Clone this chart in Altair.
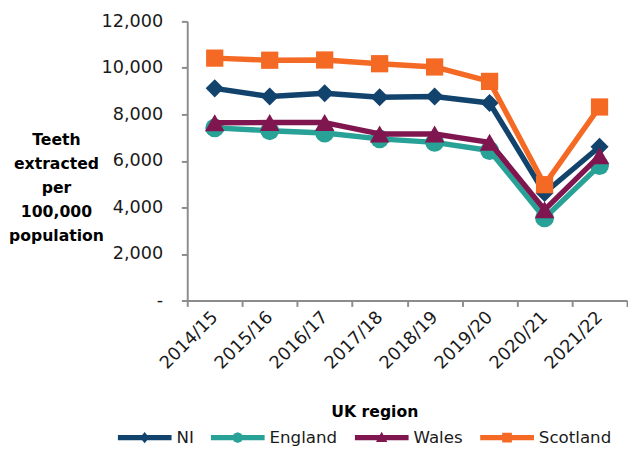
import altair as alt
import pandas as pd

years = ["2014/15", "2015/16", "2016/17", "2017/18", "2018/19", "2019/20", "2020/21", "2021/22"]
regions = ["NI", "England", "Wales", "Scotland"]
ni = [9120, 8770, 8910, 8740, 8770, 8490, 4620, 6610]
england = [7420, 7300, 7200, 6950, 6800, 6450, 3550, 5800]
wales = [7640, 7650, 7650, 7160, 7160, 6800, 3900, 6220]
scotland = [10420, 10330, 10340, 10180, 10040, 9420, 4980, 8320]
colors = ["#12436D", "#28A197", "#801650", "#F46A25"]
marker_shapes = ["diamond", "circle", "triangle-up", "square"]
marker_sizes = [340, 370, 400, 310]

series = {"NI": ni, "England": england, "Wales": wales, "Scotland": scotland}
rows = []
for r in regions:
    for y, v in zip(years, series[r]):
        rows.append({"Year": y, "Region": r, "Value": v})
df = pd.DataFrame(rows)

FONT = "DejaVu Sans"

# legend symbols: thick line with the series marker in the middle (no arcs)
line_path = "M-1,-0.1 L1,-0.1 L1,0.1 L-1,0.1 Z"
legend_paths = [
    line_path + " M0,-0.21 L0.17,0 L0,0.21 L-0.17,0 Z",
    line_path + " M0,-0.2 L0.141,-0.141 L0.2,0 L0.141,0.141 L0,0.2 L-0.141,0.141 L-0.2,0 L-0.141,-0.141 Z",
    line_path + " M0,-0.22 L0.21,0.16 L-0.21,0.16 Z",
    line_path + " M-0.18,-0.18 L0.18,-0.18 L0.18,0.18 L-0.18,0.18 Z",
]

x_enc = alt.X(
    "Year:N",
    sort=years,
    scale=alt.Scale(paddingInner=0, paddingOuter=0),
    axis=alt.Axis(
        title="UK region",
        titleFont=FONT, titleFontSize=16, titleFontWeight="bold", titleColor="#000000",
        titleX=191, titleY=113, titleBaseline="middle", titleAlign="center",
        labelAngle=315, labelAlign="right", labelBaseline="middle",
        labelFont=FONT, labelFontSize=18, labelColor="#1a1a1a", labelPadding=8,
        tickBand="extent", tickSize=6, tickColor="#8c8c8c", tickWidth=2,
        domainColor="#8c8c8c", domainWidth=2,
    ),
)
y_enc = alt.Y(
    "Value:Q",
    scale=alt.Scale(domain=[0, 12000], nice=False),
    axis=alt.Axis(
        title=["Teeth", "extracted", "per", "100,000", "population"],
        titleAngle=0, titleAlign="center", titleBaseline="middle",
        titleX=-134, titleY=121, titleLineHeight=24.5,
        titleFont=FONT, titleFontSize=16, titleFontWeight="bold", titleColor="#000000",
        values=[0, 2000, 4000, 6000, 8000, 10000, 12000],
        labelExpr="datum.value == 0 ? '-\u00a0\u00a0\u00a0' : format(datum.value, ',')",
        labelFont=FONT, labelFontSize=18, labelColor="#1a1a1a", labelPadding=19,
        tickSize=6, tickColor="#8c8c8c", tickWidth=2,
        domainColor="#8c8c8c", domainWidth=2, grid=False,
    ),
)

layers = []
for r, c, s, sz in zip(regions, colors, marker_shapes, marker_sizes):
    base = alt.Chart().transform_filter(alt.datum.Region == r)
    layers.append(
        base.mark_line(strokeWidth=5.5, strokeJoin="round", strokeCap="round", color=c)
        .encode(x=x_enc, y=y_enc)
    )
    layers.append(
        base.mark_point(filled=True, shape=s, size=sz, color=c, opacity=1, strokeWidth=0)
        .encode(x=x_enc, y=y_enc)
    )

leg = alt.Legend(
    title=None, orient="none", direction="horizontal", columns=4,
    legendX=-71, legendY=415,
    symbolSize=3025, symbolStrokeWidth=0, symbolOpacity=1,
    labelOffset=5, labelFont=FONT, labelFontSize=17, labelColor="#1a1a1a",
    columnPadding=17, padding=0, clipHeight=20,
)

legend_layer = (
    alt.Chart()
    .transform_filter(alt.datum.Region == "none")
    .mark_point(filled=True, opacity=1)
    .encode(
        x=x_enc,
        y=y_enc,
        color=alt.Color("Region:N", scale=alt.Scale(domain=regions, range=colors), legend=leg),
        shape=alt.Shape("Region:N", scale=alt.Scale(domain=regions, range=legend_paths), legend=leg),
    )
)

chart = (
    alt.layer(*layers, legend_layer, data=df)
    .properties(width=449, height=285, padding=0)
    .configure_view(stroke=None)
)

chart.save("out.html", embed_options={"renderer": "svg", "actions": False})
